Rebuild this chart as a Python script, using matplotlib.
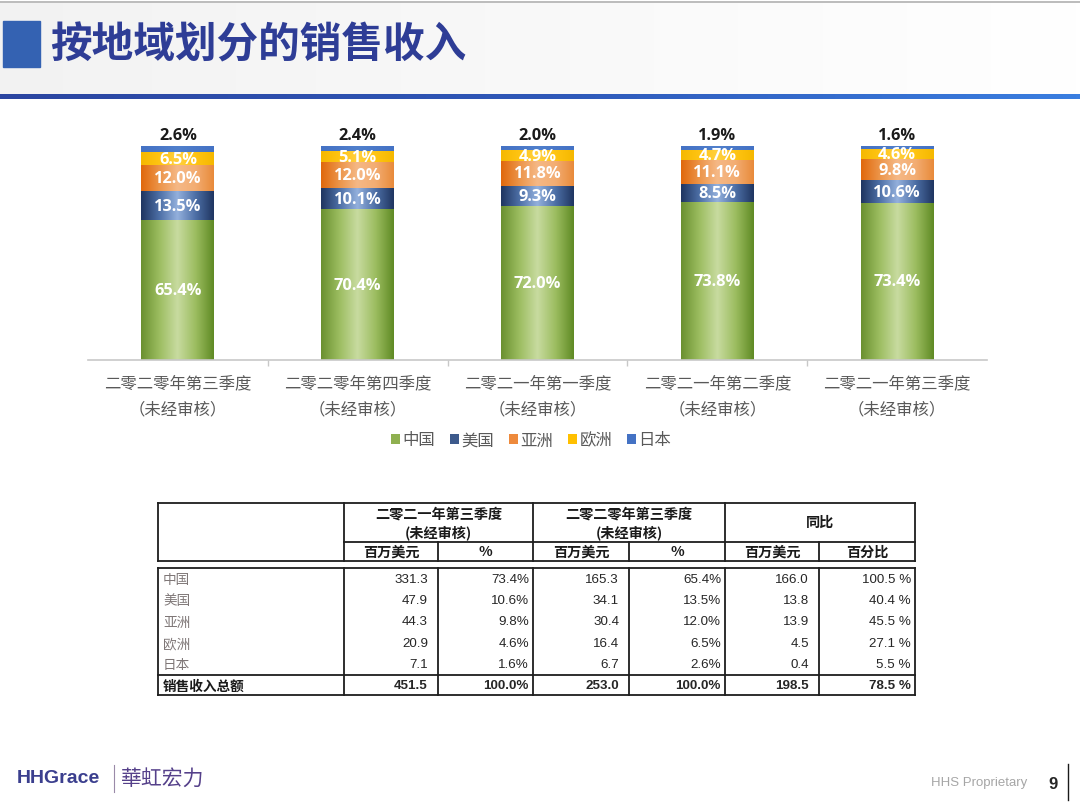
import numpy as np
import matplotlib
matplotlib.use("Agg")
import matplotlib.pyplot as plt
from matplotlib.colors import LinearSegmentedColormap
from matplotlib.patches import Rectangle, Patch

plt.rcParams['font.family'] = ['Noto Sans CJK SC', 'DejaVu Sans']

# ---------------- data ----------------
categories = ['二零二零年第三季度\n（未经审核）', '二零二零年第四季度\n（未经审核）',
              '二零二一年第一季度\n（未经审核）', '二零二一年第二季度\n（未经审核）',
              '二零二一年第三季度\n（未经审核）']
series_names = ['中国', '美国', '亚洲', '欧洲', '日本']
china = [65.4, 70.4, 72.0, 73.8, 73.4]
usa = [13.5, 10.1, 9.3, 8.5, 10.6]
asia = [12.0, 12.0, 11.8, 11.1, 9.8]
europe = [6.5, 5.1, 4.9, 4.7, 4.6]
japan = [2.6, 2.4, 2.0, 1.9, 1.6]

regions = ['中国', '美国', '亚洲', '欧洲', '日本']
total_label = '销售收入总额'
q3_2021_usd = [331.3, 47.9, 44.3, 20.9, 7.1]
q3_2021_pct = [73.4, 10.6, 9.8, 4.6, 1.6]
q3_2021_total = [451.5, 100.0]
q3_2020_usd = [165.3, 34.1, 30.4, 16.4, 6.7]
q3_2020_pct = [65.4, 13.5, 12.0, 6.5, 2.6]
q3_2020_total = [253.0, 100.0]
yoy_usd = [166.0, 13.8, 13.9, 4.5, 0.4]
yoy_pct = [100.5, 40.4, 45.5, 27.1, 5.5]
yoy_total = [198.5, 78.5]

title = '按地域划分的销售收入'

# ---------------- figure ----------------
W, H = 1080, 812
fig = plt.figure(figsize=(W / 100, H / 100), dpi=100)
fig.patch.set_facecolor('white')

ov = fig.add_axes([0, 0, 1, 1], zorder=0)
ov.set_xlim(0, W)
ov.set_ylim(H, 0)
ov.axis('off')

# header background
grad = np.linspace(0.95, 1.0, 256).reshape(1, -1)
ov.imshow(np.dstack([grad, grad, grad]), extent=[0, W, 95, 4], aspect='auto', zorder=0)
ov.plot([0, W], [2.5, 2.5], color='#b0b0b0', lw=1.2, zorder=1)
bl = np.linspace(0, 1, 256).reshape(1, -1)
bcmap = LinearSegmentedColormap.from_list('bl', ['#2b45a0', '#2f58b8', '#3a7ee0'])
ov.imshow(bl, extent=[0, W, 100, 95], aspect='auto', cmap=bcmap, zorder=1)
ov.add_patch(Rectangle((3, 22), 37, 46, color='#3462b2', zorder=2))
ov.text(50, 45, title, fontsize=30, fontweight='heavy', color='#2e3d96',
        va='center', ha='left', zorder=3)

# ---------------- chart ----------------
x_left, x_right = 88, 987
y_base, y_top = 361, 147
ax = fig.add_axes([x_left / W, 1 - y_base / H, (x_right - x_left) / W, (y_base - y_top) / H],
                  zorder=2)
ax.set_facecolor('none')

colors = [
    ['#6a9030', '#9cbd60', '#c8dba0', '#9cbd60', '#5f8a24'],
    ['#1f3560', '#4d6fa6', '#93b0dc', '#4d6fa6', '#1f3560'],
    ['#e0680c', '#ec9448', '#f5b886', '#f3ad72', '#e88a3a'],
    ['#f5b800', '#ffc412', '#ffd040', '#ffc412', '#f5b800'],
    ['#4472c4', '#4a78c8', '#5080cc', '#4a78c8', '#4472c4'],
]
data = [china, usa, asia, europe, japan]
xs = np.arange(len(categories))
bw = 0.405
bottom = np.zeros(len(categories))
gimg = np.linspace(0, 1, 256).reshape(1, -1)
lab_font = dict(fontsize=11.8, fontweight='bold', family=['Open Sans', 'DejaVu Sans'], zorder=3)
for si, (vals, cl) in enumerate(zip(data, colors)):
    bars = ax.bar(xs, vals, bw, bottom=bottom, color=cl[2], edgecolor='none', zorder=2)
    cmap = LinearSegmentedColormap.from_list('c%d' % si, cl)
    for b in bars:
        x0, y0 = b.get_x(), b.get_y()
        im = ax.imshow(gimg, extent=[x0, x0 + b.get_width(), y0, y0 + b.get_height()],
                       aspect='auto', cmap=cmap, zorder=2.1, interpolation='bilinear')
        im.set_clip_path(b)
    for i, v in enumerate(vals):
        if si < 4:
            ax.text(xs[i], bottom[i] + v / 2, '%.1f%%' % v, ha='center', va='center',
                    color='white', **lab_font)
        else:
            ax.annotate('%.1f%%' % v, (xs[i], bottom[i] + v), xytext=(0, 2.5),
                        textcoords='offset points', ha='center', va='bottom',
                        color='#1a1a1a', **lab_font)
    bottom += np.array(vals)

ax.set_xlim(-0.5, len(categories) - 0.5)
ax.set_ylim(0, 100)
for s in ['top', 'right', 'left']:
    ax.spines[s].set_visible(False)
ax.spines['bottom'].set_color('#c8c8c8')
ax.spines['bottom'].set_linewidth(1.2)
ax.set_yticks([])
ax.set_xticks(xs)
ax.set_xticklabels(categories, fontsize=11.8, color='#595959', linespacing=1.65)
ax.set_xticks(np.arange(0.5, len(categories) - 1), minor=True)
ax.tick_params(axis='x', which='major', length=0, pad=10.5)
ax.tick_params(axis='x', which='minor', length=4, color='#c8c8c8', width=1)

leg_colors = ['#8fb050', '#3d5a8c', '#ee8a3c', '#ffc000', '#4472c4']
handles = [Patch(facecolor=c, edgecolor='none') for c in leg_colors]
leg = fig.legend(handles, series_names, loc='center', ncol=5,
                 bbox_to_anchor=(531 / W, 1 - 441 / H), frameon=False,
                 handlelength=0.55, handleheight=0.55, handletextpad=0.15,
                 columnspacing=0.9, prop={'size': 11.8})
for t in leg.get_texts():
    t.set_color('#595959')

# ---------------- table ----------------
lc = '#1e1e1e'
lw = 1.3
cols = [158, 344, 438, 533, 629, 725, 819, 915]
hy0, hy_mid, hy1 = 504, 543, 562
by0, by_tot, by1 = 569, 676, 696

def hline(y, xa, xb):
    ov.plot([xa, xb], [y, y], color=lc, lw=lw, solid_capstyle='projecting', zorder=5)

def vline(x, ya, yb):
    ov.plot([x, x], [ya, yb], color=lc, lw=lw, solid_capstyle='projecting', zorder=5)

hline(hy0, cols[0], cols[-1]); hline(hy1, cols[0], cols[-1])
vline(cols[0], hy0, hy1); vline(cols[-1], hy0, hy1)
for x in [cols[1], cols[3], cols[5]]:
    vline(x, hy0, hy1)
for x in [cols[2], cols[4], cols[6]]:
    vline(x, hy_mid, hy1)
hline(hy_mid, cols[1], cols[-1])
hline(by0, cols[0], cols[-1]); hline(by1, cols[0], cols[-1])
vline(cols[0], by0, by1); vline(cols[-1], by0, by1)
for x in cols[1:-1]:
    vline(x, by0, by1)
hline(by_tot, cols[0], cols[-1])

hfont = dict(fontsize=10.2, fontweight='bold', color='#1a1a1a', ha='center', va='center', zorder=6)
ov.text((cols[1] + cols[3]) / 2, 515, '二零二一年第三季度', **hfont)
ov.text((cols[1] + cols[3]) / 2, 533, '(未经审核)', **hfont)
ov.text((cols[3] + cols[5]) / 2, 515, '二零二零年第三季度', **hfont)
ov.text((cols[3] + cols[5]) / 2, 533, '(未经审核)', **hfont)
ov.text((cols[5] + cols[7]) / 2, 523, '同比', **hfont)
sub = ['百万美元', '%', '百万美元', '%', '百万美元', '百分比']
for i, s in enumerate(sub):
    ov.text((cols[i + 1] + cols[i + 2]) / 2, 552.5, s, **hfont)

num_font = dict(fontsize=9.6, color='#262626', ha='right', va='center',
                family=['Liberation Sans', 'DejaVu Sans'], zorder=6)
row_y = [580, 601, 622.5, 644, 665.5]
pad_money, pad_pct = 10, 4
for r, name in enumerate(regions):
    y = row_y[r]
    ov.text(163, y, name, fontsize=9.8, color='#7f7777', ha='left', va='center', zorder=6)
    ov.text(cols[2] - pad_money, y, '%.1f' % q3_2021_usd[r], **num_font)
    ov.text(cols[3] - pad_pct, y, '%.1f%%' % q3_2021_pct[r], **num_font)
    ov.text(cols[4] - pad_money, y, '%.1f' % q3_2020_usd[r], **num_font)
    ov.text(cols[5] - pad_pct, y, '%.1f%%' % q3_2020_pct[r], **num_font)
    ov.text(cols[6] - pad_money, y, '%.1f' % yoy_usd[r], **num_font)
    ov.text(cols[7] - pad_pct, y, '%.1f %%' % yoy_pct[r], **num_font)

ty = 686.5
bnum = dict(num_font, fontweight='bold')
ov.text(163, ty, total_label, fontsize=9.8, fontweight='bold', color='#1a1a1a',
        ha='left', va='center', zorder=6)
ov.text(cols[2] - pad_money, ty, '%.1f' % q3_2021_total[0], **bnum)
ov.text(cols[3] - pad_pct, ty, '%.1f%%' % q3_2021_total[1], **bnum)
ov.text(cols[4] - pad_money, ty, '%.1f' % q3_2020_total[0], **bnum)
ov.text(cols[5] - pad_pct, ty, '%.1f%%' % q3_2020_total[1], **bnum)
ov.text(cols[6] - pad_money, ty, '%.1f' % yoy_total[0], **bnum)
ov.text(cols[7] - pad_pct, ty, '%.1f %%' % yoy_total[1], **bnum)

# ---------------- footer ----------------
ov.text(17, 779, 'HHGrace', fontsize=14, fontweight='bold', color='#3b3f8e',
        family=['Liberation Sans', 'DejaVu Sans'], ha='left', va='center', zorder=6)
ov.plot([114, 114], [766, 793], color='#9a8aa8', lw=0.8, zorder=6)
ov.text(121, 779, '華虹宏力', fontsize=15, color='#55408a',
        family=['Noto Sans CJK TC', 'DejaVu Sans'], ha='left', va='center', zorder=6)
ov.text(1027, 783, 'HHS Proprietary', fontsize=9.5, color='#a6a6a6',
        family=['Liberation Sans', 'DejaVu Sans'], ha='right', va='center', zorder=6)
ov.text(1053, 785, '9', fontsize=12, fontweight='bold', color='#262626',
        family=['Liberation Sans', 'DejaVu Sans'], ha='center', va='center', zorder=6)
ov.plot([1068, 1068], [765, 801], color='#1a1a1a', lw=1.0, zorder=6)

fig.savefig('out.png', dpi=100, facecolor='white')
